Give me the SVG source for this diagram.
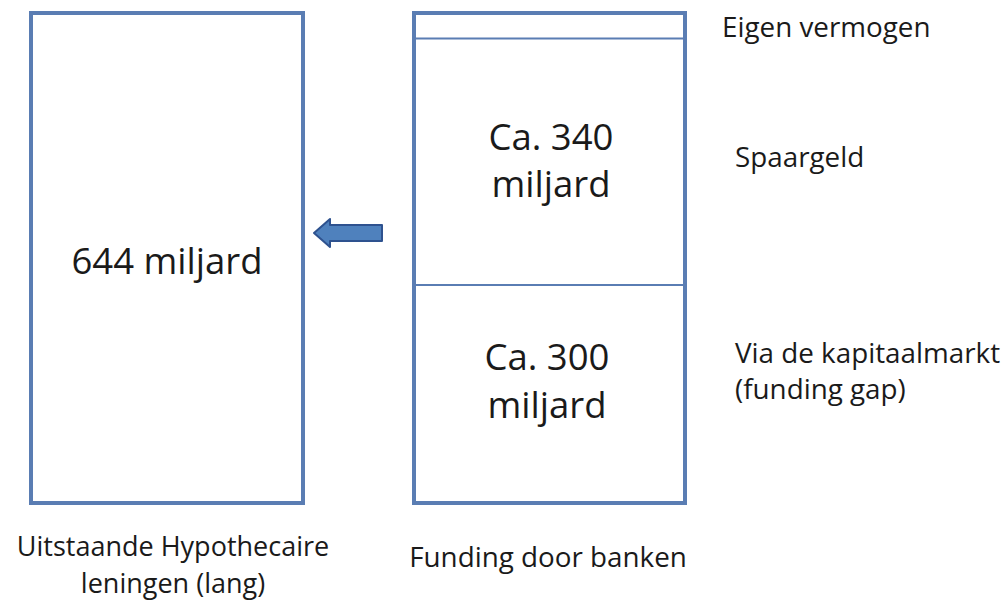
<svg xmlns="http://www.w3.org/2000/svg" width="1007" height="601" viewBox="0 0 1007 601">
<style>
.box{fill:#fff;stroke:#5a7db3;stroke-width:4}
.div{stroke:#5a7db3;stroke-width:2}
.t{font-family:"Open Sans","Liberation Sans",sans-serif;fill:#1a1a1a}
.big{font-size:36.5px}
.sm{font-size:27.8px}
.bl{font-size:27px}
</style>
<rect width="1007" height="601" fill="#fff"/>
<g id="hypotheken">
<rect class="box" x="31" y="13" width="272" height="490"/>
<text class="t big" x="167" y="274" text-anchor="middle">644 miljard</text>
</g>
<g id="funding">
<rect class="box" x="414" y="13" width="271" height="490"/>
<line class="div" x1="414" y1="38.5" x2="685" y2="38.5"/>
<line class="div" x1="414" y1="285" x2="685" y2="285"/>
<text class="t big" x="551" y="150" text-anchor="middle">Ca. 340</text>
<text class="t big" x="551" y="197" text-anchor="middle">miljard</text>
<text class="t big" x="547" y="370" text-anchor="middle">Ca. 300</text>
<text class="t big" x="547" y="418" text-anchor="middle">miljard</text>
</g>
<g id="labels">
<text class="t sm" x="722" y="37">Eigen vermogen</text>
<text class="t sm" x="735" y="167">Spaargeld</text>
<text class="t sm" x="735" y="363">Via de kapitaalmarkt</text>
<text class="t sm" x="735" y="399">(funding gap)</text>
<text class="t bl" x="173" y="556" text-anchor="middle">Uitstaande Hypothecaire</text>
<text class="t bl" x="173" y="593" text-anchor="middle">leningen (lang)</text>
<text class="t sm" x="548" y="567" text-anchor="middle">Funding door banken</text>
</g>
<g id="connectors">
<polygon points="314,233 330,219 330,225 382,225 382,241 330,241 330,247" fill="#4f81bd" stroke="#2e528f" stroke-width="2" stroke-linejoin="round"/>
</g>
</svg>
